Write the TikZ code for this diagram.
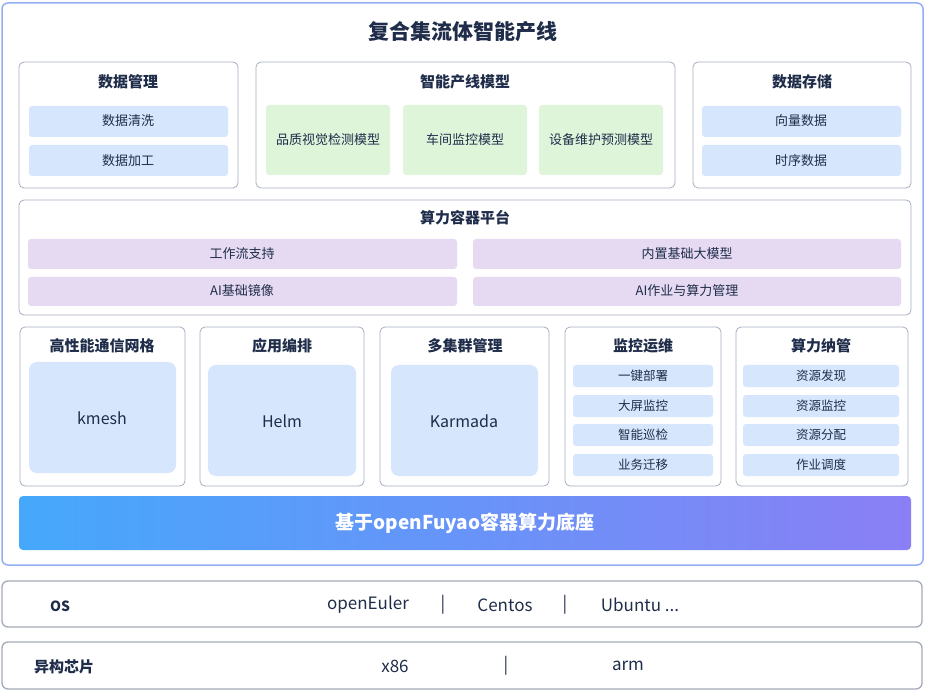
\documentclass[tikz,border=0pt]{standalone}
\usepackage{fontspec}
\setmainfont{Noto Sans CJK SC}
\begin{document}
\begin{tikzpicture}[x=1pt,y=-1pt,
  txt/.style={text=tc},
  outer/.style={draw=obl,line width=1.5pt,rounded corners=6pt},
  grp/.style={draw=gb,line width=0.8pt,rounded corners=5pt,fill=white},
  blu/.style={fill=lb,rounded corners=3pt},
  grn/.style={fill=lg,rounded corners=3pt},
  pur/.style={fill=lp,rounded corners=3pt},
  big/.style={fill=lb,rounded corners=8pt},
  hd/.style={text=tc,font=\fontsize{15}{17}\selectfont\bfseries},
  it/.style={text=tc,font=\fontsize{13}{15}\selectfont},
  sm/.style={text=tc,font=\fontsize{12.5}{14}\selectfont},
  lay/.style={draw=lgray,line width=1.3pt,rounded corners=6pt}]
\definecolor{tc}{HTML}{1F2D4A}
\definecolor{obl}{HTML}{94AEF6}
\definecolor{gb}{HTML}{A6AEBF}
\definecolor{lb}{HTML}{D6E6FC}
\definecolor{lg}{HTML}{DFF5DA}
\definecolor{lp}{HTML}{E6DAF2}
\definecolor{lgray}{HTML}{A3ABB8}
\definecolor{gl}{HTML}{45A8FB}
\definecolor{gr}{HTML}{8A7FF5}
\useasboundingbox (0,0) rectangle (926,692);
\draw[outer] (2,3) rectangle (923,565);
\node[text=tc,font=\fontsize{21}{24}\selectfont\bfseries] (title) at (463,32) {复合集流体智能产线};
% row 1
\draw[grp] (19,62) rectangle (238,188);
\node[hd] (h1) at (128,82) {数据管理};
\fill[blu] (29,106) rectangle (228,137); \node[it] (a1) at (128,121) {数据清洗};
\fill[blu] (29,145) rectangle (228,176); \node[it] (a2) at (128,161) {数据加工};
\draw[grp] (256,62) rectangle (675,188);
\node[hd] (h2) at (465,82) {智能产线模型};
\fill[grn] (266,105) rectangle (390,175); \node[it] (b1) at (328,140) {品质视觉检测模型};
\fill[grn] (403,105) rectangle (527,175); \node[it] (b2) at (465,140) {车间监控模型};
\fill[grn] (539,105) rectangle (663,175); \node[it] (b3) at (601,140) {设备维护预测模型};
\draw[grp] (693,62) rectangle (911,188);
\node[hd] (h3) at (802,82) {数据存储};
\fill[blu] (702,106) rectangle (901,137); \node[it] (c1) at (801,121) {向量数据};
\fill[blu] (702,145) rectangle (901,176); \node[it] (c2) at (801,161) {时序数据};
% row 2
\draw[grp] (19,200) rectangle (911,315);
\node[hd] (h4) at (465,218) {算力容器平台};
\fill[pur] (28,239) rectangle (457,269); \node[it] (d1) at (242,254) {工作流支持};
\fill[pur] (473,239) rectangle (901,269); \node[it] (d2) at (687,254) {内置基础大模型};
\fill[pur] (28,277) rectangle (457,306); \node[it] (d3) at (242,291) {AI基础镜像};
\fill[pur] (473,277) rectangle (901,306); \node[it] (d4) at (687,291) {AI作业与算力管理};
% row 3
\draw[grp] (20,327) rectangle (185,486);
\node[hd] (h5) at (102,346) {高性能通信网格};
\fill[big] (29,362) rectangle (176,473); \node[it,font=\fontsize{16}{18}\selectfont] (e1) at (102,418) {kmesh};
\draw[grp] (200,327) rectangle (364,486);
\node[hd] (h6) at (282,346) {应用编排};
\fill[big] (208,365) rectangle (356,476); \node[it,font=\fontsize{16}{18}\selectfont] (e2) at (282,421) {Helm};
\draw[grp] (380,327) rectangle (549,486);
\node[hd] (h7) at (465,346) {多集群管理};
\fill[big] (391,365) rectangle (538,476); \node[it,font=\fontsize{16}{18}\selectfont] (e3) at (464,421) {Karmada};
\draw[grp] (565,327) rectangle (721,486);
\node[hd] (h8) at (643,346) {监控运维};
\foreach \y/\t [count=\i] in {365/一键部署,395/大屏监控,424/智能巡检,454/业务迁移}{
  \fill[blu] (573,\y) rectangle (713,\y+22);
  \node[sm] (f\i) at (643,\y+11) {\t};}
\draw[grp] (736,327) rectangle (908,486);
\node[hd] (h9) at (821,346) {算力纳管};
\foreach \y/\t [count=\i] in {365/资源发现,395/资源监控,424/资源分配,454/作业调度}{
  \fill[blu] (743,\y) rectangle (899,\y+22);
  \node[sm] (g\i) at (821,\y+11) {\t};}
% base bar
\shade[left color=gl,right color=gr,rounded corners=4pt] (19,496) rectangle (911,550);
\node[text=white,font=\fontsize{19}{22}\selectfont\bfseries] (base) at (465,523) {基于openFuyao容器算力底座};
% OS
\draw[lay] (2,581) rectangle (922,627);
\node[text=tc,font=\fontsize{14}{16}\selectfont\bfseries] (os) at (60,606) {OS};
\node[it,font=\fontsize{17}{19}\selectfont] (o1) at (368,605) {openEuler};
\node[it,font=\fontsize{17}{19}\selectfont] (s1) at (443,605) {|};
\node[it,font=\fontsize{17}{19}\selectfont] (o2) at (505,605) {Centos};
\node[it,font=\fontsize{17}{19}\selectfont] (s2) at (565,605) {|};
\node[it,font=\fontsize{17}{19}\selectfont] (o3) at (640,605) {Ubuntu ...};
\draw[lay] (2,642) rectangle (922,689);
\node[text=tc,font=\fontsize{15}{17}\selectfont\bfseries] (chip) at (64,667) {异构芯片};
\node[it,font=\fontsize{17}{19}\selectfont] (x1) at (395,666) {x86};
\node[it,font=\fontsize{17}{19}\selectfont] (s3) at (506,666) {|};
\node[it,font=\fontsize{17}{19}\selectfont] (x2) at (628,666) {arm};
\end{tikzpicture}
\end{document}
